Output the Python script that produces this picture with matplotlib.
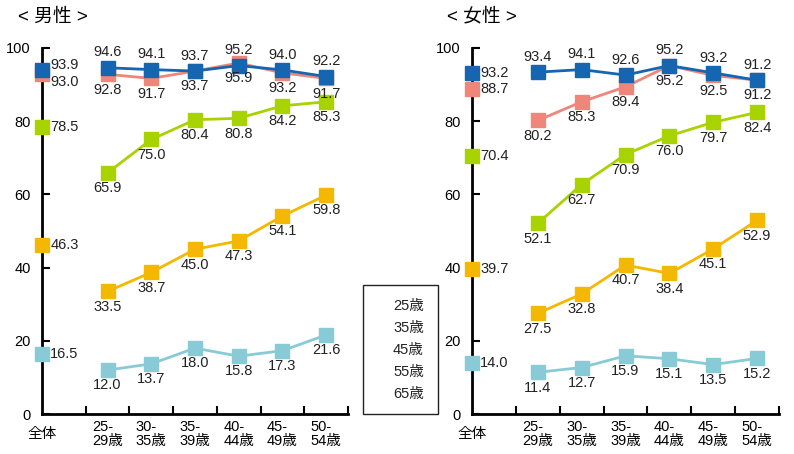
import numpy as np
import matplotlib.pyplot as plt
from matplotlib.patches import Rectangle

plt.rcParams['font.family'] = ['Liberation Sans', 'Noto Sans CJK JP']

categories = ["全体", "25-\n29歳", "30-\n35歳", "35-\n39歳", "40-\n44歳", "45-\n49歳", "50-\n54歳"]
series_names = ["25歳", "35歳", "45歳", "55歳", "65歳"]

male_25 = [93.9, 94.6, 94.1, 93.7, 95.2, 94.0, 92.2]
male_35 = [93.0, 92.8, 91.7, 93.7, 95.9, 93.2, 91.7]
male_45 = [78.5, 65.9, 75.0, 80.4, 80.8, 84.2, 85.3]
male_55 = [46.3, 33.5, 38.7, 45.0, 47.3, 54.1, 59.8]
male_65 = [16.5, 12.0, 13.7, 18.0, 15.8, 17.3, 21.6]

female_25 = [93.2, 93.4, 94.1, 92.6, 95.2, 93.2, 91.2]
female_35 = [88.7, 80.2, 85.3, 89.4, 95.2, 92.5, 91.2]
female_45 = [70.4, 52.1, 62.7, 70.9, 76.0, 79.7, 82.4]
female_55 = [39.7, 27.5, 32.8, 40.7, 38.4, 45.1, 52.9]
female_65 = [14.0, 11.4, 12.7, 15.9, 15.1, 13.5, 15.2]

colors = ["#1565b0", "#f0857a", "#a8d200", "#f5b800", "#88cbd6"]

# x positions: 全体 sits on the axis, groups centred between ticks
x_all = 0
x_grp = np.arange(1, 7) + 0.5


def draw_panel(ax, data, all_offsets, title):
    # draw from bottom series to top so blue ends up on top
    for i in reversed(range(len(data))):
        vals = data[i]
        c = colors[i]
        z = 10 - i
        ax.plot(x_grp, vals[1:], color=c, lw=2, marker="s", ms=10.5,
                mec=c, mfc=c, zorder=z, clip_on=False)
        ax.plot([x_all], [vals[0]], marker="s", ms=10.5, color=c,
                zorder=z, clip_on=False, ls="none")
        ax.annotate(f"{vals[0]:.1f}", (x_all, vals[0]), xytext=(6, all_offsets[i]),
                    textcoords="offset points", ha="left", va="center",
                    fontsize=10.5, color="#222222", zorder=20)
        dy = 11 if i == 0 else -11
        for x, v in zip(x_grp, vals[1:]):
            ax.annotate(f"{v:.1f}", (x, v), xytext=(0, dy), textcoords="offset points",
                        ha="center", va="center", fontsize=10.5, color="#222222", zorder=20)

    ax.set_xlim(0, 7)
    ax.set_ylim(0, 100)
    ax.set_yticks(np.arange(0, 101, 20))
    ax.tick_params(axis="y", direction="in", length=6, width=1.5, labelsize=10.5, pad=8)
    ax.set_xticks(np.arange(1, 8))
    ax.set_xticklabels([])
    ax.tick_params(axis="x", which="major", direction="in", length=6, width=1.5)
    ax.set_xticks([x_all] + list(x_grp), minor=True)
    ax.set_xticklabels(categories, minor=True, fontsize=10.5, linespacing=1.0)
    ax.tick_params(axis="x", which="minor", length=0, pad=14.5)
    for lab in ax.get_xticklabels(minor=True):
        lab.set_verticalalignment("center")
        lab.set_multialignment("left")
    for s in ["top", "right"]:
        ax.spines[s].set_visible(False)
    for s in ["left", "bottom"]:
        ax.spines[s].set_linewidth(2)
    ax.text(-0.08, 1.085, title, transform=ax.transAxes, fontsize=13.5,
            ha="left", va="center")


fig = plt.figure(figsize=(7.94, 4.54), dpi=100)
ax1 = fig.add_axes([42 / 794, 40 / 454, 306 / 794, 366 / 454])
ax2 = fig.add_axes([472 / 794, 40 / 454, 307 / 794, 366 / 454])

draw_panel(ax1, [male_25, male_35, male_45, male_55, male_65], [4, -6, 0, 0, 0], "< 男性 >")
draw_panel(ax2, [female_25, female_35, female_45, female_55, female_65], [0, 0, 0, 0, 0], "< 女性 >")

# legend box (labels only)
fig.patches.append(Rectangle((363 / 794, 1 - 414 / 454), 75 / 794, 129 / 454,
                             transform=fig.transFigure, fill=False, ec="#222222", lw=1))
for k, name in enumerate(series_names):
    fig.text(424 / 794, 1 - (306 + 22 * k) / 454, name, ha="right", va="center",
             fontsize=10.5, color="#222222")

fig.savefig("out.png", dpi=100)
